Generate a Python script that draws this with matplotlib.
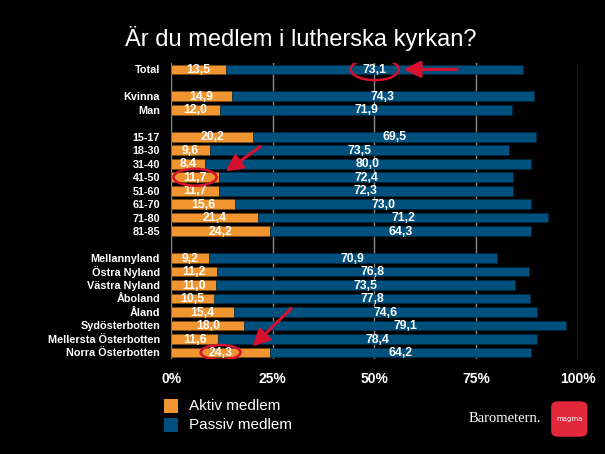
import matplotlib.pyplot as plt
from matplotlib.patches import Ellipse, FancyBboxPatch

# data (blank entries are gaps between groups)
groups = ["Total", "", "Kvinna", "Man", "", "15-17", "18-30", "31-40", "41-50",
          "51-60", "61-70", "71-80", "81-85", "", "Mellannyland", "Östra Nyland",
          "Västra Nyland", "Åboland", "Åland", "Sydösterbotten",
          "Mellersta Österbotten", "Norra Österbotten"]
aktiv = [13.5, None, 14.9, 12.0, None, 20.2, 9.6, 8.4, 11.7, 11.7, 15.6, 21.4, 24.2,
         None, 9.2, 11.2, 11.0, 10.5, 15.4, 18.0, 11.6, 24.3]
passiv = [73.1, None, 74.3, 71.9, None, 69.5, 73.5, 80.0, 72.4, 72.3, 73.0, 71.2, 64.3,
          None, 70.9, 76.8, 73.5, 77.8, 74.6, 79.1, 78.4, 64.2]
ticks = [0, 25, 50, 75, 100]

orange = "#F0952F"
blue = "#00507E"
red = "#D8102F"

fig = plt.figure(figsize=(6.05, 4.54), dpi=100, facecolor="black")
ax = fig.add_axes([0.283, 0.209, 0.672, 0.653])
ax.set_facecolor("black")

for t in ticks:
    ax.axvline(t, color="#8a8a8a", lw=1.0, zorder=0)

for i, (a, p) in enumerate(zip(aktiv, passiv)):
    if a is None:
        continue
    ax.barh(i, a, height=0.72, color=orange, edgecolor="#7a4a10", lw=0.4, zorder=2)
    ax.barh(i, p, left=a, height=0.72, color=blue, edgecolor="#002a44", lw=0.4, zorder=2)
    ax.text(a / 2, i + 0.05, f"{a:.1f}".replace(".", ","), color="white", fontsize=8.8,
            fontweight="bold", ha="center", va="center", family="Liberation Sans", zorder=3)
    ax.text(a + p / 2, i + 0.05, f"{p:.1f}".replace(".", ","), color="white", fontsize=8.8,
            fontweight="bold", ha="center", va="center", family="Liberation Sans", zorder=3)

ax.set_xlim(0, 100)
ax.set_ylim(21.5, -0.5)
ax.set_yticks(range(len(groups)))
ax.set_yticklabels(groups, color="white", fontsize=7.8, fontweight="bold",
                   family="Liberation Sans")
ax.set_xticks(ticks)
ax.set_xticklabels([f"{t}%" for t in ticks], color="white", fontsize=10,
                   fontweight="bold", family="Liberation Sans")
ax.tick_params(length=0, pad=9)
ax.tick_params(axis="y", pad=8)
for s in ax.spines.values():
    s.set_visible(False)

# red highlights
hl = [(0, aktiv[0] + passiv[0] / 2, 11.8, 1.6),
      (8, aktiv[8] / 2, 10.6, 1.25),
      (21, aktiv[21] / 2, 9.8, 1.1)]
for row, xc, w, h in hl:
    ax.add_patch(Ellipse((xc, row), w, h, fill=False, ec=red, lw=1.8, zorder=4))
arrows = [((71, 0), (56.5, 0)), ((22.5, 5.6), (12.8, 7.7)), ((30, 17.6), (19.5, 20.7))]
for start, end in arrows:
    ax.annotate("", xy=end, xytext=start, zorder=5,
                arrowprops=dict(arrowstyle="-|>,head_length=1.0,head_width=0.5",
                                color=red, lw=2.2))

fig.text(0.497, 0.915, "Är du medlem i lutherska kyrkan?", color="white", fontsize=17,
         ha="center", va="center", family="Liberation Sans")

# legend
fig.patches.append(FancyBboxPatch((0.271, 0.09), 0.024, 0.031, boxstyle="square,pad=0",
                                  transform=fig.transFigure, fc=orange, ec="none"))
fig.patches.append(FancyBboxPatch((0.271, 0.049), 0.024, 0.031, boxstyle="square,pad=0",
                                  transform=fig.transFigure, fc=blue, ec="none"))
fig.text(0.313, 0.105, "Aktiv medlem", color="white", fontsize=11, va="center",
         family="Liberation Sans")
fig.text(0.313, 0.064, "Passiv medlem", color="white", fontsize=11, va="center",
         family="Liberation Sans")

# branding
fig.text(0.775, 0.079, "Barometern.", color="white", fontsize=10.5, va="center",
         family="Liberation Serif")
fig.patches.append(FancyBboxPatch((0.911, 0.038), 0.06, 0.078,
                                  boxstyle="round,pad=0,rounding_size=0.012",
                                  transform=fig.transFigure, fc="#E2283B", ec="none"))
fig.text(0.941, 0.077, "magma", color="white", fontsize=5, ha="center", va="center",
         family="DejaVu Sans")

fig.savefig("out.png", dpi=100, facecolor="black")
